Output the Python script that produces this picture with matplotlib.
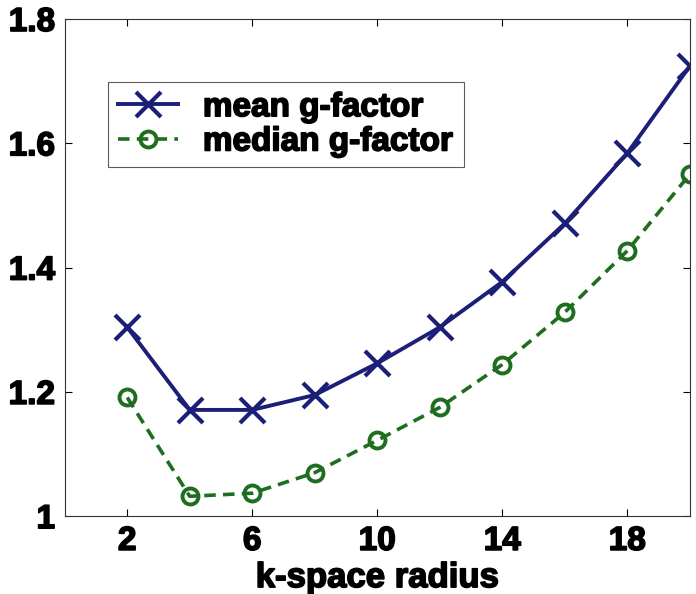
import numpy as np
import matplotlib
matplotlib.use('Agg')
import matplotlib.pyplot as plt
import matplotlib.patheffects as pe

plt.rcParams['font.family'] = ['Liberation Sans Narrow', 'Liberation Sans', 'DejaVu Sans']
plt.rcParams['font.weight'] = 'bold'

# k-space radius and g-factor values
radius = [2, 4, 6, 8, 10, 12, 14, 16, 18, 20]
mean_g = [1.304, 1.171, 1.171, 1.195, 1.246, 1.304, 1.377, 1.471, 1.584, 1.724]
median_g = [1.191, 1.032, 1.037, 1.070, 1.122, 1.175, 1.244, 1.328, 1.427, 1.550]

x_ticks = [2, 6, 10, 14, 18]
y_ticks = [1, 1.2, 1.4, 1.6, 1.8]
y_labels = ['1', '1.2', '1.4', '1.6', '1.8']

heavy = [pe.withStroke(linewidth=1.2, foreground='black')]

fig = plt.figure(figsize=(6.96, 5.94), dpi=100)
ax = fig.add_axes([0.093, 0.131, 0.898, 0.837])

ax.plot(radius, mean_g, '-', color='#1c1f78', linewidth=2.8,
        marker='x', markersize=18, markeredgewidth=3.0,
        label='mean g-factor')
ax.plot(radius, median_g, '--', color='#1f6e1f', linewidth=2.6,
        dashes=(3.2, 2.0),
        marker='o', markersize=11.5, markerfacecolor='none',
        markeredgewidth=2.8, label='median g-factor')

ax.set_xlim(0, 20)
ax.set_ylim(1, 1.8)
ax.set_xticks(x_ticks)
ax.set_yticks(y_ticks)
ax.set_yticklabels(y_labels)
ax.tick_params(direction='in', length=5, width=0.8, top=True, right=True,
               labelsize=24, pad=7)
for lbl in ax.get_xticklabels() + ax.get_yticklabels():
    lbl.set_fontweight('bold')
    lbl.set_path_effects(heavy)
for s in ax.spines.values():
    s.set_linewidth(0.8)
    s.set_color('#333333')

xl = ax.set_xlabel('k-space radius', fontsize=25, fontweight='bold', labelpad=3,
                   family=['Liberation Sans', 'DejaVu Sans'])
xl.set_path_effects(heavy)

leg = ax.legend(loc='upper left', bbox_to_anchor=(0.069, 0.873),
                borderaxespad=0,
                prop={'size': 24, 'weight': 'bold', 'family': ['Liberation Sans', 'DejaVu Sans']},
                frameon=True, fancybox=False, edgecolor='#333333',
                handlelength=1.8, handletextpad=0.75, borderpad=0.3,
                labelspacing=0.1)
leg.get_frame().set_linewidth(0.8)
for t in leg.get_texts():
    t.set_path_effects(heavy)

fig.savefig('out.png', dpi=100)
